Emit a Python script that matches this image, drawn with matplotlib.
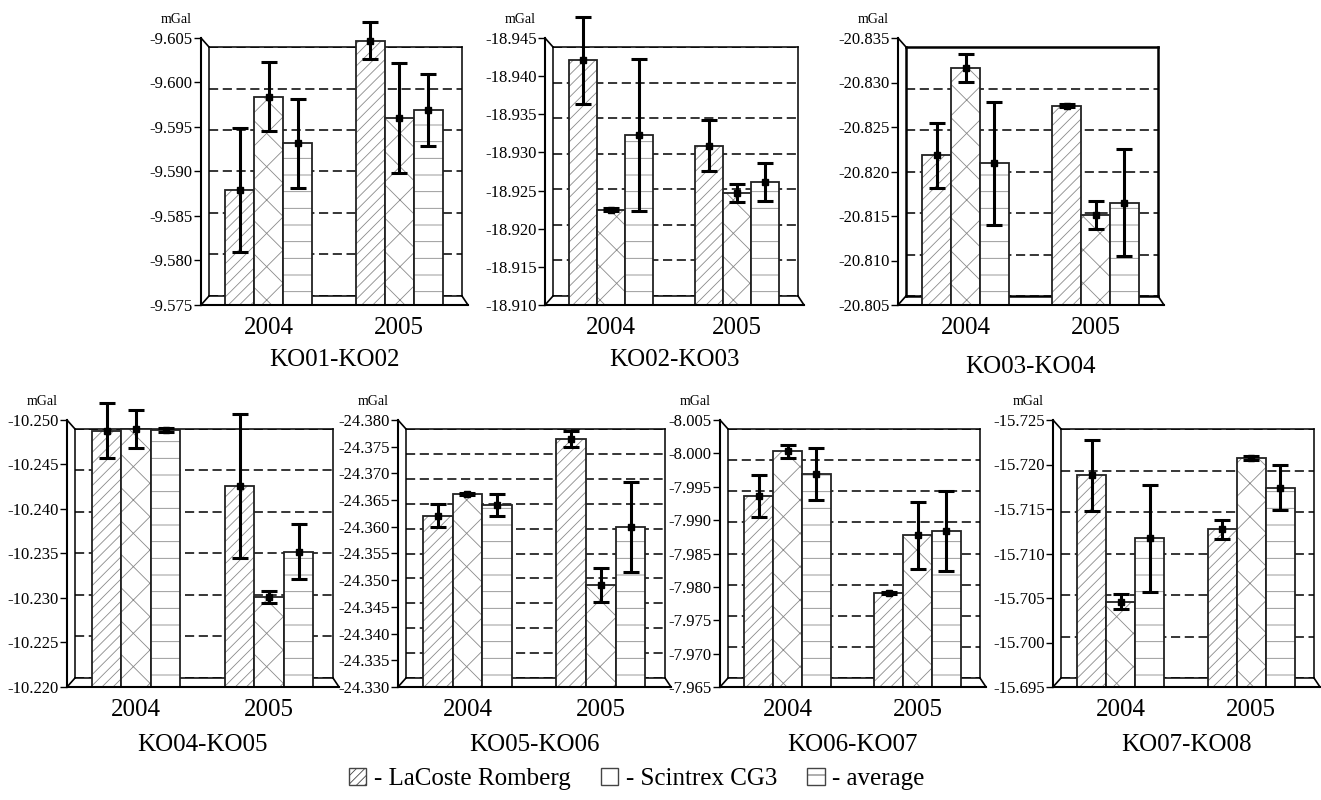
import numpy as np
import matplotlib
matplotlib.use("Agg")
import matplotlib.pyplot as plt
from matplotlib.lines import Line2D
from matplotlib.patches import Patch
from matplotlib.ticker import MultipleLocator, FormatStrFormatter

plt.rcParams['font.family'] = ['Liberation Serif', 'DejaVu Serif']
plt.rcParams['axes.unicode_minus'] = False
plt.rcParams['hatch.linewidth'] = 0.6

# --- data (mGal) ---
years = ['2004', '2005']
titles = ['KO01-KO02', 'KO02-KO03', 'KO03-KO04',
          'KO04-KO05', 'KO05-KO06', 'KO06-KO07', 'KO07-KO08']
y_top = [-9.605, -18.945, -20.835, -10.250, -24.380, -8.005, -15.725]
y_bottom = [-9.575, -18.910, -20.805, -10.220, -24.330, -7.965, -15.695]

lacoste = [[-9.5879, -9.6047], [-18.9421, -18.9309], [-20.8218, -20.8274],
           [-10.2488, -10.2426], [-24.3621, -24.3764], [-7.9936, -7.9791],
           [-15.7188, -15.7127]]
lacoste_err = [[0.0070, 0.0021], [0.0057, 0.0033], [0.0037, 0.0002],
               [0.0031, 0.0081], [0.0021, 0.0015], [0.0032, 0.0002],
               [0.0040, 0.0011]]
scintrex = [[-9.5984, -9.5960], [-18.9225, -18.9247], [-20.8316, -20.8151],
            [-10.2490, -10.2301], [-24.3661, -24.3491], [-8.0003, -7.9877],
            [-15.7046, -15.7207]]
scintrex_err = [[0.0039, 0.0062], [0.0002, 0.0012], [0.0016, 0.0016],
                [0.0021, 0.0007], [0.0002, 0.0032], [0.0010, 0.0050],
                [0.0008, 0.0002]]
average = [[-9.5932, -9.5969], [-18.9323, -18.9261], [-20.8209, -20.8165],
           [-10.2489, -10.2352], [-24.3641, -24.3600], [-7.9969, -7.9884],
           [-15.7117, -15.7174]]
average_err = [[0.0050, 0.0040], [0.0100, 0.0025], [0.0069, 0.0060],
               [0.0002, 0.0031], [0.0021, 0.0084], [0.0039, 0.0060],
               [0.0060, 0.0025]]

# panel boxes in pixels: left, top, right, bottom
W, H = 1321, 800
boxes = [(201, 38, 462, 305), (545, 38, 798, 305), (898, 38, 1158, 305),
         (67, 420, 333, 687), (398, 420, 665, 687), (720, 420, 980, 687),
         (1053, 420, 1314, 687)]
title_off = [55, 55, 62, 58, 58, 58, 58]
DX, DY = 8, 9

fig = plt.figure(figsize=(W / 100, H / 100), dpi=100)


def fline(x1, y1, x2, y2, lw=1.2):
    fig.add_artist(Line2D([x1 / W, x2 / W], [1 - y1 / H, 1 - y2 / H],
                          transform=fig.transFigure, color='black', lw=lw))


def rect(L, T, R, B):
    return [L / W, 1 - B / H, (R - L) / W, (B - T) / H]


hatches = ['///', 'x', '-']
w = 0.222
x = np.arange(2)

for i in range(7):
    L, T, R, B = boxes[i]
    lo, hi = y_bottom[i], y_top[i]

    # back wall with dashed grid
    axb = fig.add_axes(rect(L + DX, T + DY, R, B - DY))
    axb.set_ylim(lo, hi)
    axb.yaxis.set_major_locator(MultipleLocator(0.005))
    axb.set_xticks([])
    axb.tick_params(axis='y', length=0, labelleft=False)
    axb.yaxis.grid(True, linestyle=(0, (6, 3)), color='black', lw=1.1)
    for s in axb.spines.values():
        s.set_linewidth(1.8 if i == 2 else 1.1)

    # front axes with the bars
    ax = fig.add_axes(rect(L, T, R, B))
    ax.patch.set_alpha(0)
    ax.set_xlim(-0.52, 1.48)
    ax.set_ylim(lo, hi)
    ax.yaxis.set_major_locator(MultipleLocator(0.005))
    ax.yaxis.set_major_formatter(FormatStrFormatter('%.3f'))
    for s in ['top', 'right', 'bottom']:
        ax.spines[s].set_visible(False)
    ax.spines['left'].set_linewidth(1.5)
    ax.tick_params(axis='y', labelsize=12, length=5, width=1, pad=1)
    ax.set_xticks(x, years)
    ax.tick_params(axis='x', length=0, labelsize=18, pad=9)

    series = [(lacoste[i], lacoste_err[i]), (scintrex[i], scintrex_err[i]),
              (average[i], average_err[i])]
    for k, (vals, errs) in enumerate(series):
        xs = x + (k - 1) * w
        heights = np.array(vals) - lo
        ax.bar(xs, heights, w, bottom=lo, color='white', edgecolor='#8a8a8a',
               hatch=hatches[k], lw=0)
        ax.bar(xs, heights, w, bottom=lo, fill=False, edgecolor='#222222', lw=1.3)
        eb = ax.errorbar(xs, vals, yerr=errs, fmt='s', color='black', ms=4.5,
                         capsize=6, elinewidth=2.2, capthick=2.2)
        for art in eb.lines[1] + eb.lines[2]:
            art.set_clip_on(False)
        eb.lines[0].set_clip_on(False)

    ax.annotate('mGal', xy=(0, 1), xycoords='axes fraction', xytext=(-18, 13),
                textcoords='offset points', ha='center', va='center', fontsize=10)
    ax.text(0.51, -title_off[i] / (B - T), titles[i], transform=ax.transAxes,
            ha='center', va='center', fontsize=18)

    # 3D frame edges
    fline(L, B, R + 6, B, lw=1.5)
    fline(R, B - DY, R + 6, B)
    fline(L, T, L + DX, T + DY)
    fline(L, B, L + DX, B - DY)

handles = [Patch(facecolor='white', edgecolor='#444444', hatch='////', lw=1),
           Patch(facecolor='white', edgecolor='#444444', lw=1),
           Patch(facecolor='white', edgecolor='#444444', hatch='-', lw=1)]
fig.legend(handles, ['- LaCoste Romberg', '- Scintrex CG3', '- average'],
           loc='center', bbox_to_anchor=(0.482, 0.026), ncol=3, frameon=False,
           fontsize=18, handlelength=0.7, handleheight=0.7, handletextpad=0.3,
           columnspacing=1.2)

fig.savefig('out.png', dpi=100)
